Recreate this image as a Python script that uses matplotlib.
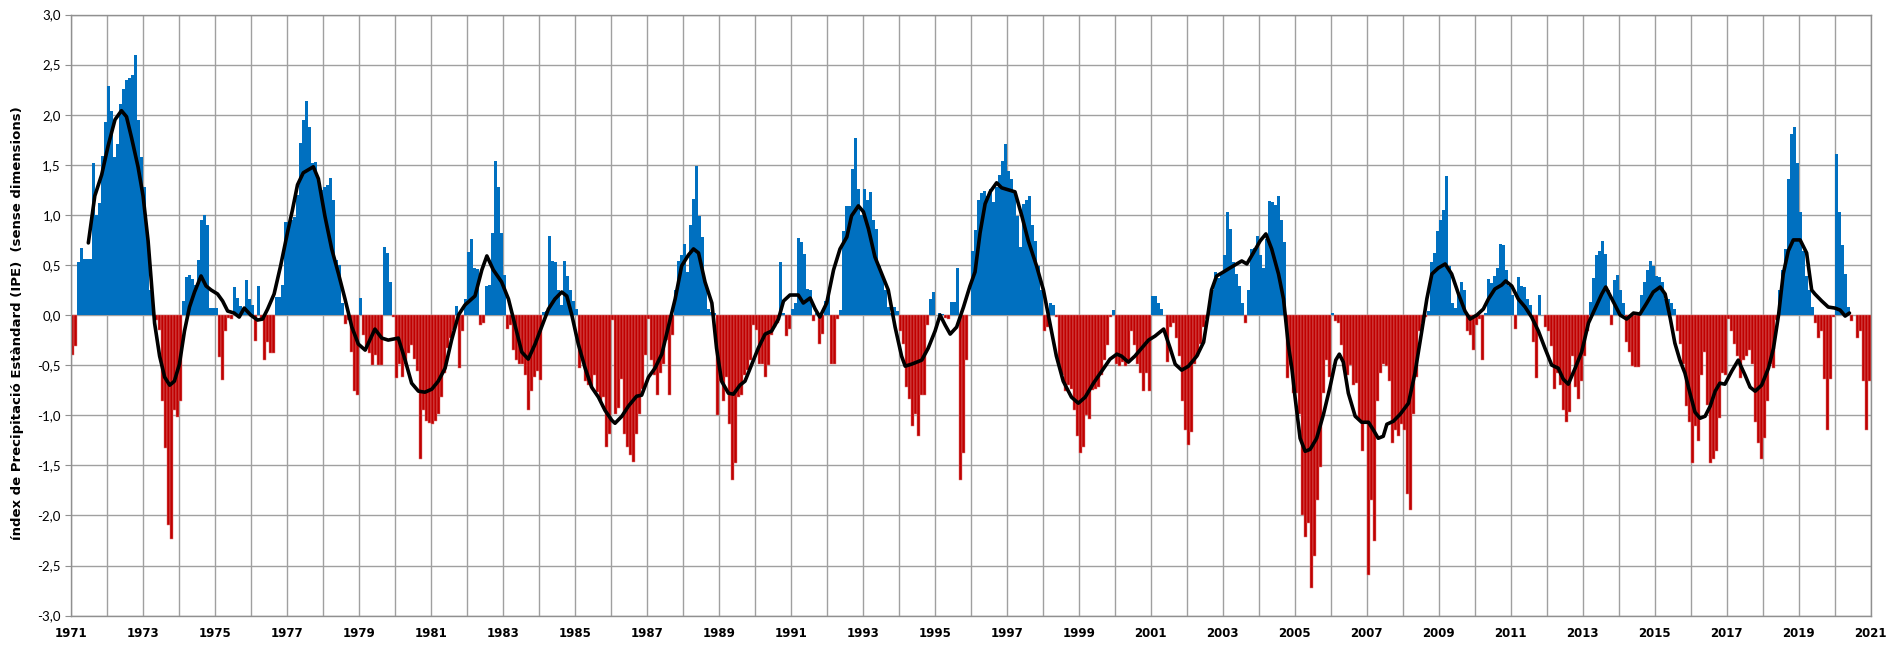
import matplotlib
matplotlib.use("Agg")
import matplotlib.pyplot as plt
import numpy as np
from matplotlib.ticker import FixedLocator, FuncFormatter

# ---------------- data (monthly SPI, Jan..Dec) ----------------
years = list(range(1971, 2021))
spi_by_year = [
    [-0.40, -0.31, 0.53, 0.67, 0.56, 0.56, 0.56, 1.52, 1.00, 1.12, 1.59, 1.93],   # 1971
    [2.29, 2.04, 1.58, 1.71, 2.11, 2.26, 2.35, 2.37, 2.40, 2.60, 1.95, 1.58],      # 1972
    [1.28, 0.82, 0.25, 0.08, -0.05, -0.15, -0.86, -1.33, -2.10, -2.24, -0.95, -1.02],  # 1973
    [-0.86, 0.14, 0.38, 0.40, 0.36, 0.30, 0.55, 0.95, 1.00, 0.90, 0.07, 0.07],     # 1974
    [0.07, -0.42, -0.65, -0.16, -0.03, -0.04, 0.28, 0.17, 0.09, 0.05, 0.35, 0.16],  # 1975
    [0.10, -0.26, 0.29, -0.05, -0.45, -0.27, -0.38, -0.38, 0.18, 0.18, 0.30, 0.93],  # 1976
    [0.93, 0.95, 0.98, 1.20, 1.72, 1.95, 2.14, 1.88, 1.52, 1.53, 1.35, 1.25],      # 1977
    [1.28, 1.30, 1.37, 1.15, 0.55, 0.50, 0.12, -0.09, -0.05, -0.37, -0.76, -0.80],  # 1978
    [0.17, -0.20, -0.33, -0.38, -0.50, -0.40, -0.50, -0.50, 0.68, 0.62, 0.33, -0.02],  # 1979
    [-0.63, -0.49, -0.62, -0.49, -0.38, -0.30, -0.44, -0.56, -1.44, -0.95, -1.06, -1.08],  # 1980
    [-1.09, -1.06, -0.99, -0.82, -0.58, -0.33, -0.23, -0.15, 0.09, -0.53, -0.16, 0.16],  # 1981
    [0.63, 0.76, 0.47, 0.46, -0.10, -0.08, 0.29, 0.30, 0.82, 1.54, 1.28, 0.82],    # 1982
    [0.40, -0.14, -0.10, -0.35, -0.45, -0.49, -0.49, -0.60, -0.95, -0.76, -0.62, -0.56],  # 1983
    [-0.65, 0.03, 0.04, 0.79, 0.54, 0.53, 0.25, 0.10, 0.54, 0.39, 0.25, 0.14],     # 1984
    [0.06, -0.53, -0.45, -0.66, -0.70, -0.72, -0.60, -0.77, -0.86, -0.82, -1.32, -1.19],  # 1985
    [-0.05, -0.99, -0.93, -0.64, -1.19, -1.32, -1.40, -1.47, -1.19, -0.99, -0.74, -0.40],  # 1986
    [-0.04, -0.45, -0.60, -0.80, -0.58, -0.49, -0.25, -0.80, -0.20, 0.25, 0.54, 0.60],  # 1987
    [0.71, 0.43, 0.90, 1.16, 1.49, 0.99, 0.78, 0.31, 0.06, 0.03, 0.02, -1.00],     # 1988
    [-0.66, -0.86, -0.62, -1.09, -1.65, -1.48, -0.82, -0.80, -0.60, -0.55, -0.45, -0.10],  # 1989
    [-0.15, -0.49, -0.49, -0.62, -0.50, -0.20, -0.12, -0.08, 0.53, 0.02, -0.21, -0.14],  # 1990
    [0.06, 0.12, 0.77, 0.73, 0.61, 0.26, 0.25, -0.06, 0.02, -0.29, -0.19, 0.14],   # 1991
    [0.20, -0.49, -0.49, -0.04, 0.05, 0.84, 1.09, 1.09, 1.46, 1.77, 1.26, 1.00],   # 1992
    [1.26, 1.15, 1.23, 0.95, 0.86, 0.49, 0.39, 0.25, 0.08, 0.02, 0.08, 0.04],      # 1993
    [-0.16, -0.29, -0.72, -0.84, -1.11, -0.99, -1.21, -0.80, -0.80, -0.10, 0.16, 0.23],  # 1994
    [0.00, 0.02, 0.01, -0.03, -0.04, 0.13, 0.13, 0.47, -1.65, -1.38, -0.45, 0.00],  # 1995
    [0.64, 0.85, 1.15, 1.22, 1.24, 1.19, 1.26, 1.13, 1.28, 1.40, 1.54, 1.71],      # 1996
    [1.44, 1.36, 1.24, 0.99, 0.68, 1.11, 1.15, 1.19, 0.90, 0.74, 0.49, 0.25],      # 1997
    [-0.16, -0.12, 0.12, 0.10, -0.02, -0.51, -0.60, -0.76, -0.70, -0.74, -0.95, -1.21],  # 1998
    [-1.38, -1.32, -1.00, -1.04, -0.75, -0.74, -0.72, -0.60, -0.45, -0.30, -0.02, 0.05],  # 1999
    [-0.49, -0.51, -0.47, -0.51, -0.45, -0.16, -0.30, -0.49, -0.58, -0.76, -0.58, -0.76],  # 2000
    [0.19, 0.19, 0.12, 0.06, 0.00, -0.47, -0.12, -0.08, -0.23, -0.41, -0.86, -1.15],  # 2001
    [-1.30, -1.17, -0.49, -0.41, -0.29, -0.12, -0.04, 0.10, 0.25, 0.43, 0.37, 0.41],  # 2002
    [0.60, 1.03, 0.86, 0.53, 0.41, 0.29, 0.12, -0.08, 0.25, 0.66, 0.67, 0.79],     # 2003
    [0.60, 0.47, 0.76, 1.14, 1.13, 1.10, 1.19, 0.95, 0.73, -0.63, -0.50, -0.78],   # 2004
    [-0.78, -0.99, -2.00, -2.22, -2.08, -2.72, -2.41, -1.85, -1.52, -0.78, -0.45, -0.62],  # 2005
    [0.02, -0.06, -0.08, -0.30, -0.55, -0.60, -0.50, -0.70, -0.68, -1.05, -1.36, -1.07],  # 2006
    [-2.59, -1.85, -2.26, -0.86, -0.58, -0.49, -0.51, -0.66, -1.28, -1.15, -1.21, -1.09],  # 2007
    [-1.15, -1.79, -1.95, -0.99, -0.62, -0.16, -0.08, -0.02, 0.04, 0.53, 0.62, 0.84],  # 2008
    [0.95, 1.05, 1.39, 0.49, 0.12, 0.07, 0.20, 0.33, 0.25, -0.16, -0.20, -0.35],   # 2009
    [-0.10, -0.04, -0.45, 0.02, 0.36, 0.32, 0.39, 0.47, 0.71, 0.70, 0.45, 0.29],   # 2010
    [0.20, -0.14, 0.38, 0.29, 0.28, 0.16, 0.10, -0.27, -0.63, 0.20, 0.00, -0.12],  # 2011
    [-0.16, -0.31, -0.74, -0.58, -0.70, -0.95, -1.07, -0.97, -0.41, -0.72, -0.84, -0.66],  # 2012
    [-0.41, -0.16, 0.13, 0.37, 0.60, 0.64, 0.74, 0.61, 0.25, -0.10, 0.35, 0.40],   # 2013
    [0.25, 0.12, -0.27, -0.37, -0.51, -0.52, -0.52, 0.20, 0.33, 0.45, 0.54, 0.49],  # 2014
    [0.39, 0.38, 0.33, 0.16, 0.16, 0.12, 0.06, -0.16, -0.29, -0.49, -0.91, -1.07],  # 2015
    [-1.48, -1.11, -1.26, -0.60, -0.37, -0.90, -1.48, -1.44, -1.36, -1.03, -0.58, -0.60],  # 2016
    [-0.04, -0.16, -0.29, -0.41, -0.63, -0.45, -0.41, -0.35, -0.49, -1.07, -1.28, -1.44],  # 2017
    [-1.23, -0.86, -0.49, -0.53, -0.05, 0.25, 0.45, 0.66, 1.36, 1.81, 1.88, 1.52],  # 2018
    [1.03, 0.64, 0.39, 0.25, 0.08, -0.08, -0.23, -0.16, -0.64, -1.15, -0.64, -0.02],  # 2019
    [1.61, 1.03, 0.70, 0.41, 0.08, -0.06, 0.00, -0.23, -0.16, -0.66, -1.15, -0.66],  # 2020
]

# smoothed curve
line_years = [
    1971.49, 1971.67, 1971.86, 1972.04, 1972.23, 1972.41, 1972.55, 1972.69, 1972.87, 1973.01,
    1973.15, 1973.24, 1973.33, 1973.47, 1973.61, 1973.75, 1973.88, 1974.02, 1974.16, 1974.30,
    1974.44, 1974.62, 1974.76, 1974.90, 1975.08, 1975.22, 1975.36, 1975.54, 1975.68, 1975.82,
    1976.00, 1976.19, 1976.33, 1976.47, 1976.65, 1976.83, 1977.02, 1977.16, 1977.30, 1977.46,
    1977.74, 1977.88, 1978.06, 1978.25, 1978.44, 1978.62, 1978.81, 1978.99, 1979.18, 1979.31,
    1979.45, 1979.64, 1979.82, 1980.10, 1980.29, 1980.47, 1980.66, 1980.84, 1981.03, 1981.21,
    1981.40, 1981.58, 1981.77, 1981.95, 1982.23, 1982.42, 1982.56, 1982.74, 1982.97, 1983.16,
    1983.34, 1983.53, 1983.71, 1983.90, 1984.08, 1984.27, 1984.45, 1984.64, 1984.78, 1984.92,
    1985.10, 1985.29, 1985.47, 1985.66, 1985.84, 1986.03, 1986.12, 1986.31, 1986.49, 1986.72,
    1986.86, 1987.05, 1987.23, 1987.42, 1987.60, 1987.79, 1987.97, 1988.16, 1988.30, 1988.44,
    1988.62, 1988.81, 1988.94, 1989.08, 1989.27, 1989.41, 1989.59, 1989.73, 1989.92, 1990.10,
    1990.29, 1990.47, 1990.66, 1990.80, 1990.98, 1991.21, 1991.35, 1991.54, 1991.68, 1991.81,
    1992.00, 1992.19, 1992.37, 1992.56, 1992.69, 1992.88, 1993.02, 1993.16, 1993.34, 1993.53,
    1993.71, 1993.90, 1994.08, 1994.18, 1994.36, 1994.64, 1994.82, 1995.01, 1995.15, 1995.29,
    1995.43, 1995.61, 1995.80, 1995.98, 1996.12, 1996.26, 1996.40, 1996.54, 1996.72, 1996.86,
    1997.05, 1997.23, 1997.42, 1997.60, 1997.83, 1998.02, 1998.20, 1998.38, 1998.57, 1998.80,
    1998.99, 1999.18, 1999.41, 1999.64, 1999.87, 2000.06, 2000.19, 2000.38, 2000.56, 2000.75,
    2000.94, 2001.12, 2001.36, 2001.54, 2001.68, 2001.86, 2002.05, 2002.28, 2002.47, 2002.58,
    2002.69, 2002.83, 2003.02, 2003.20, 2003.39, 2003.53, 2003.67, 2003.85, 2004.04, 2004.20,
    2004.36, 2004.55, 2004.69, 2004.82, 2004.92, 2005.01, 2005.15, 2005.29, 2005.43, 2005.61,
    2005.80, 2005.98, 2006.14, 2006.24, 2006.35, 2006.49, 2006.68, 2006.86, 2007.05, 2007.19,
    2007.32, 2007.46, 2007.56, 2007.74, 2007.93, 2008.16, 2008.34, 2008.53, 2008.67, 2008.81,
    2008.99, 2009.18, 2009.36, 2009.55, 2009.73, 2009.87, 2010.06, 2010.24, 2010.38, 2010.56,
    2010.75, 2010.86, 2011.03, 2011.21, 2011.40, 2011.58, 2011.77, 2011.95, 2012.14, 2012.32,
    2012.46, 2012.60, 2012.79, 2012.97, 2013.16, 2013.34, 2013.53, 2013.64, 2013.81, 2014.04,
    2014.22, 2014.41, 2014.59, 2014.78, 2014.96, 2015.15, 2015.29, 2015.43, 2015.56, 2015.70,
    2015.84, 2015.98, 2016.12, 2016.26, 2016.40, 2016.54, 2016.68, 2016.81, 2016.95, 2017.14,
    2017.32, 2017.51, 2017.65, 2017.79, 2017.97, 2018.16, 2018.30, 2018.44, 2018.57, 2018.71,
    2018.85, 2019.04, 2019.22, 2019.36, 2019.45, 2019.64, 2019.82, 2020.00, 2020.15, 2020.29,
    2020.41,
]
line_values = [
    0.72, 1.19, 1.40, 1.69, 1.95, 2.04, 1.98, 1.77, 1.48, 1.19,
    0.74, 0.33, -0.08, -0.41, -0.62, -0.70, -0.66, -0.49, -0.16, 0.08,
    0.23, 0.39, 0.29, 0.25, 0.21, 0.14, 0.04, 0.02, -0.02, 0.07,
    0.00, -0.05, -0.04, 0.06, 0.21, 0.49, 0.82, 1.05, 1.30, 1.42,
    1.48, 1.36, 0.99, 0.66, 0.41, 0.16, -0.12, -0.29, -0.35, -0.25,
    -0.14, -0.23, -0.25, -0.23, -0.45, -0.68, -0.76, -0.77, -0.74, -0.66,
    -0.53, -0.25, 0.00, 0.10, 0.19, 0.45, 0.59, 0.45, 0.33, 0.16,
    -0.10, -0.37, -0.44, -0.29, -0.12, 0.06, 0.16, 0.23, 0.19, 0.00,
    -0.29, -0.53, -0.72, -0.82, -0.95, -1.05, -1.08, -1.01, -0.91, -0.81,
    -0.80, -0.62, -0.53, -0.39, -0.12, 0.16, 0.49, 0.60, 0.66, 0.62,
    0.33, 0.12, -0.33, -0.66, -0.78, -0.79, -0.70, -0.66, -0.49, -0.33,
    -0.19, -0.16, -0.04, 0.14, 0.20, 0.20, 0.12, 0.17, 0.06, -0.02,
    0.12, 0.45, 0.66, 0.78, 0.99, 1.09, 1.03, 0.86, 0.58, 0.41,
    0.25, -0.12, -0.41, -0.51, -0.49, -0.45, -0.33, -0.16, 0.00, -0.10,
    -0.19, -0.12, 0.08, 0.29, 0.43, 0.82, 1.11, 1.23, 1.32, 1.27,
    1.25, 1.23, 0.99, 0.74, 0.49, 0.25, -0.08, -0.41, -0.66, -0.82,
    -0.88, -0.82, -0.68, -0.56, -0.44, -0.39, -0.41, -0.47, -0.41, -0.33,
    -0.25, -0.21, -0.14, -0.33, -0.49, -0.55, -0.51, -0.41, -0.27, -0.02,
    0.25, 0.39, 0.43, 0.47, 0.51, 0.54, 0.51, 0.62, 0.74, 0.81,
    0.66, 0.41, 0.16, -0.29, -0.53, -0.82, -1.23, -1.36, -1.34, -1.23,
    -0.99, -0.72, -0.45, -0.39, -0.47, -0.78, -1.01, -1.07, -1.07, -1.15,
    -1.23, -1.21, -1.09, -1.06, -0.99, -0.88, -0.58, -0.16, 0.16, 0.41,
    0.47, 0.51, 0.41, 0.21, 0.04, -0.04, 0.00, 0.06, 0.16, 0.26,
    0.30, 0.34, 0.29, 0.16, 0.08, -0.02, -0.16, -0.33, -0.50, -0.53,
    -0.64, -0.69, -0.53, -0.37, -0.08, 0.06, 0.21, 0.28, 0.16, 0.00,
    -0.04, 0.02, 0.01, 0.12, 0.23, 0.28, 0.21, -0.03, -0.28, -0.45,
    -0.58, -0.78, -0.97, -1.03, -1.01, -0.91, -0.76, -0.68, -0.69, -0.56,
    -0.45, -0.60, -0.72, -0.76, -0.70, -0.53, -0.33, 0.00, 0.41, 0.64,
    0.75, 0.75, 0.62, 0.25, 0.21, 0.14, 0.08, 0.07, 0.05, -0.01,
    0.02,
]

x_ticks = list(range(1971, 2022, 2))
y_ticks = [-3.0, -2.5, -2.0, -1.5, -1.0, -0.5, 0.0, 0.5, 1.0, 1.5, 2.0, 2.5, 3.0]
ylabel = "índex de Precipitació Estàndard (IPE)  (sense dimensions)"

# ---------------- build positions ----------------
xs, vals = [], []
for yr, row in zip(years, spi_by_year):
    for m, val in enumerate(row):
        xs.append(yr + (m + 0.5) / 12.0)
        vals.append(val)
xs = np.array(xs)
vals = np.array(vals)
pos = vals >= 0

W, H = 1889, 647
fig = plt.figure(figsize=(W / 100, H / 100), dpi=100)
left, right, top, bottom = 70.7, 1870.7, 14.5, 615.6
ax = fig.add_axes([left / W, 1 - bottom / H, (right - left) / W, (bottom - top) / H])

ax.bar(xs[pos], vals[pos], width=1.03 / 12, color='#0070C0', linewidth=0, zorder=2)
ax.bar(xs[~pos], vals[~pos], width=1.0 / 12, color='#C00000',
       edgecolor='#E07A7A', linewidth=0.35, zorder=2)
ax.plot(line_years, line_values, color='black', lw=2.6, zorder=3,
        solid_capstyle='round', solid_joinstyle='round')

ax.set_xlim(1971, 2021)
ax.set_ylim(-3, 3)
ax.xaxis.set_major_locator(FixedLocator(x_ticks))
ax.xaxis.set_minor_locator(FixedLocator(list(range(1971, 2022))))
ax.yaxis.set_major_locator(FixedLocator(y_ticks))
ax.yaxis.set_major_formatter(FuncFormatter(lambda v, p: f"{v:.1f}".replace('.', ',')))

ax.grid(True, which='both', axis='x', color='#A0A0A0', lw=1.0, zorder=0)
ax.grid(True, which='major', axis='y', color='#A0A0A0', lw=1.0, zorder=0)
ax.set_axisbelow(True)
for s in ax.spines.values():
    s.set_color('#909090')
    s.set_linewidth(1.0)

ax.tick_params(axis='x', which='both', length=0, pad=8, labelsize=8.5)
ax.tick_params(axis='y', which='major', length=4, color='#909090', pad=3)
for lab in ax.get_xticklabels():
    lab.set_fontweight('bold')
for lab in ax.get_yticklabels():
    lab.set_fontfamily('Lato')
    lab.set_fontsize(9.5)

fig.text(0.0095, 0.50, ylabel, rotation=90, ha='center', va='center',
         fontsize=9.5, fontweight='bold')

fig.savefig("out.png", dpi=100)
